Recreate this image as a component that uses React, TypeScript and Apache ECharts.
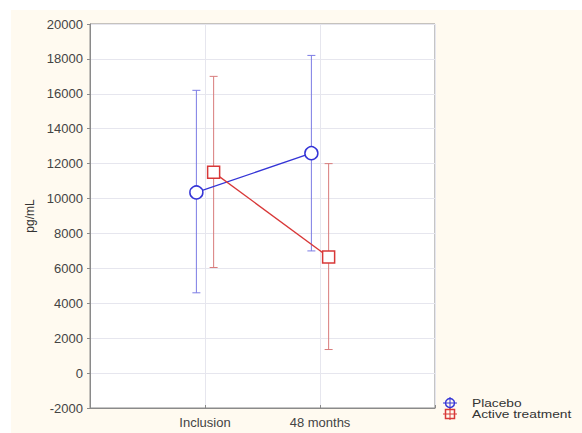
import React, { useEffect, useRef } from "react";
import * as echarts from "echarts";

const categories = ["Inclusion", "48 months"];
const placeboMean = [10350, 12600];
const placeboLow = [4600, 7000];
const placeboHigh = [16200, 18200];
const activeMean = [11500, 6650];
const activeLow = [6050, 1350];
const activeHigh = [17000, 12000];
const yTicks = [-2000, 0, 2000, 4000, 6000, 8000, 10000, 12000, 14000, 16000, 18000, 20000];

const DODGE = 0.075;
const BLUE = "#3434d6";
const BLUE_ERR = "#7c7ce4";
const RED = "#d83838";
const RED_ERR = "#d87c7c";
const FONT = "Liberation Sans, Arial, sans-serif";

function errSeries(name: string, xs: number[], lows: number[], highs: number[], color: string) {
  const data = xs.map((x, i) => [x, lows[i], highs[i]]);
  return {
    type: "custom",
    name: name + "-err",
    silent: true,
    z: 2,
    data,
    encode: { x: 0, y: [1, 2] },
    renderItem: (params: any, api: any) => {
      const x = api.value(0);
      const lo = api.coord([x, api.value(1)]);
      const hi = api.coord([x, api.value(2)]);
      const w = 4;
      const style = { stroke: color, lineWidth: 1 };
      return {
        type: "group",
        children: [
          { type: "line", shape: { x1: lo[0], y1: lo[1], x2: hi[0], y2: hi[1] }, style },
          { type: "line", shape: { x1: lo[0] - w, y1: lo[1], x2: lo[0] + w, y2: lo[1] }, style },
          { type: "line", shape: { x1: hi[0] - w, y1: hi[1], x2: hi[0] + w, y2: hi[1] }, style },
        ],
      };
    },
  };
}

export default function App() {
  const ref = useRef<HTMLDivElement>(null);
  useEffect(() => {
    if (!ref.current) return;
    const chart = echarts.init(ref.current, null, { renderer: "svg" });
    const px = categories.map((_, i) => i + 1 - DODGE);
    const ax = categories.map((_, i) => i + 1 + DODGE);
    chart.setOption({
      animation: false,
      backgroundColor: "#ffffff",
      textStyle: { fontFamily: FONT },
      graphic: [
        { type: "rect", z: -10, shape: { x: 11, y: 10, width: 571, height: 423 }, style: { fill: "#fffaf0" } },
        { type: "rect", z: -9, shape: { x: 90, y: 24, width: 345, height: 384 }, style: { fill: "#ffffff" } },
        // legend placebo
        { type: "line", shape: { x1: 443, y1: 403, x2: 457, y2: 403 }, style: { stroke: BLUE, lineWidth: 1 } },
        { type: "line", shape: { x1: 450, y1: 397, x2: 450, y2: 409 }, style: { stroke: BLUE, lineWidth: 1 } },
        { type: "circle", shape: { cx: 450, cy: 403, r: 4.5 }, style: { stroke: BLUE, fill: "none", lineWidth: 1.5 } },
        { type: "text", x: 472, y: 403, scaleX: 1.25, style: { text: "Placebo", fill: "#333", font: "11px " + FONT, textVerticalAlign: "middle" } },
        // legend active
        { type: "line", shape: { x1: 443, y1: 414, x2: 457, y2: 414 }, style: { stroke: RED, lineWidth: 1 } },
        { type: "line", shape: { x1: 450, y1: 408, x2: 450, y2: 420 }, style: { stroke: RED, lineWidth: 1 } },
        { type: "rect", shape: { x: 445.5, y: 409.5, width: 9, height: 9 }, style: { stroke: RED, fill: "none", lineWidth: 1.5 } },
        { type: "text", x: 472, y: 414, scaleX: 1.25, style: { text: "Active treatment", fill: "#333", font: "11px " + FONT, textVerticalAlign: "middle" } },
      ],
      grid: {
        left: 90, top: 24, right: 147, bottom: 25,
        show: true, borderColor: "#8a8a8a", borderWidth: 1, backgroundColor: "transparent",
      },
      xAxis: {
        type: "value", min: 0, max: 3, interval: 1,
        axisLine: { show: true, onZero: false, lineStyle: { color: "#8a8a8a" } },
        axisTick: { show: true, inside: true, length: 3, lineStyle: { color: "#8a8a8a" } },
        splitLine: { show: true, lineStyle: { color: "#e6e6ee" } },
        axisLabel: {
          color: "#444", fontSize: 13, fontFamily: FONT, margin: 8,
          formatter: (v: number) => (v >= 1 && v <= categories.length ? categories[v - 1] : ""),
        },
      },
      yAxis: {
        type: "value", min: yTicks[0], max: yTicks[yTicks.length - 1], interval: 2000,
        name: "pg/mL", nameLocation: "middle", nameGap: 54,
        nameTextStyle: { color: "#333", fontSize: 12, fontFamily: FONT },
        axisLine: { show: true, lineStyle: { color: "#8a8a8a" } },
        axisTick: { show: true, length: 3, lineStyle: { color: "#8a8a8a" } },
        splitLine: { show: true, lineStyle: { color: "#e6e6ee" } },
        axisLabel: { color: "#444", fontSize: 13, fontFamily: FONT, margin: 7, formatter: (v: number) => String(v) },
      },
      series: [
        errSeries("Placebo", px, placeboLow, placeboHigh, BLUE_ERR),
        errSeries("Active treatment", ax, activeLow, activeHigh, RED_ERR),
        {
          type: "line", name: "Placebo", z: 3,
          data: px.map((x, i) => [x, placeboMean[i]]),
          symbol: "circle", symbolSize: 13,
          lineStyle: { color: BLUE, width: 1.3 },
          itemStyle: { color: "#ffffff", borderColor: BLUE, borderWidth: 1.5 },
        },
        {
          type: "line", name: "Active treatment", z: 3,
          data: ax.map((x, i) => [x, activeMean[i]]),
          symbol: "rect", symbolSize: 12,
          lineStyle: { color: RED, width: 1.3 },
          itemStyle: { color: "#ffffff", borderColor: RED, borderWidth: 1.5 },
        },
      ],
    });
    return () => chart.dispose();
  }, []);
  return <div ref={ref} style={{ position: "fixed", left: 0, top: 0, width: 582, height: 433 }} />;
}
